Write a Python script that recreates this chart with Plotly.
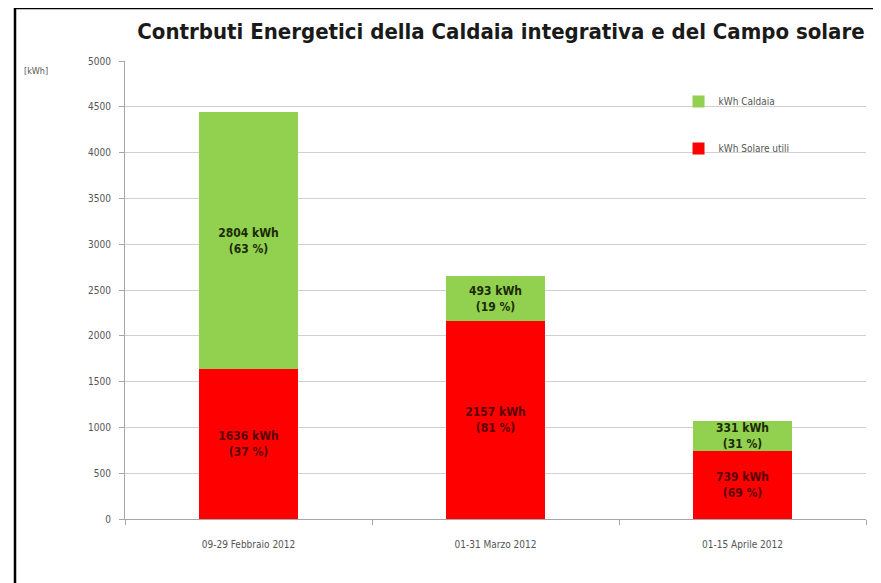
import plotly.graph_objects as go

categories = ["09-29 Febbraio 2012", "01-31 Marzo 2012", "01-15 Aprile 2012"]
solare = [1636, 2157, 739]
caldaia = [2804, 493, 331]
solare_pct = [37, 81, 69]
caldaia_pct = [63, 19, 31]
y_ticks = [0, 500, 1000, 1500, 2000, 2500, 3000, 3500, 4000, 4500, 5000]

FONT = "DejaVu Sans Condensed, Liberation Sans Narrow, sans-serif"

sol_text = [f"{v} kWh<br>({p} %)" for v, p in zip(solare, solare_pct)]
cal_text = [f"{v} kWh<br>({p} %)" for v, p in zip(caldaia, caldaia_pct)]

# page body has an 8px margin: figure origin sits at screen (8, 8)
OFF = 8
W, H = 881 - OFF, 583 - OFF
L, R, T, B = 125 - OFF, 15, 61 - OFF, 64
pw, ph = W - L - R, H - T - B

fig = go.Figure()
fig.add_trace(go.Bar(
    x=categories, y=solare, name="kWh Solare utili",
    marker=dict(color="#FF0000", line=dict(width=0)),
    text=sol_text, textposition="inside", insidetextanchor="middle",
    constraintext="none",
    textfont=dict(family=FONT, size=12, color="#5a0000", weight="bold"),
    legendrank=2, legendgroup="sol", width=0.4,
))
fig.add_trace(go.Bar(
    x=categories, y=caldaia, name="kWh Caldaia",
    marker=dict(color="#92D050", line=dict(width=0)),
    text=cal_text, textposition="inside", insidetextanchor="middle",
    constraintext="none",
    textfont=dict(family=FONT, size=12, color="#1c2a05", weight="bold"),
    legendrank=1, legendgroup="cal", width=0.4,
))

fig.update_layout(
    width=W, height=H,
    barmode="stack",
    margin=dict(l=L, r=R, t=T, b=B, autoexpand=False),
    paper_bgcolor="white", plot_bgcolor="white",
    font=dict(family=FONT, color="#555555", size=10),
    title=dict(
        text="<b>Contrbuti Energetici della Caldaia integrativa e del Campo solare</b>",
        x=(501 - OFF) / W, xanchor="center", xref="container",
        y=1 - (31 - OFF) / H, yanchor="middle", yref="container",
        font=dict(family=FONT, size=22, color="#1a1a1a"),
    ),
    xaxis=dict(
        type="category", showgrid=False,
        showline=True, linecolor="#a6a6a6", linewidth=1,
        ticks="outside", tickson="boundaries", ticklen=5, tickcolor="#a6a6a6",
        tickfont=dict(size=10, color="#555555"), ticklabelstandoff=16,
    ),
    yaxis=dict(
        range=[0, 5000], tickvals=y_ticks,
        showgrid=True, gridcolor="#d0d0d0", gridwidth=1,
        showline=True, linecolor="#a6a6a6", linewidth=1,
        ticks="outside", ticklen=5, tickcolor="#a6a6a6",
        tickfont=dict(size=10, color="#555555"), ticklabelstandoff=6,
        zeroline=False,
    ),
    legend=dict(
        x=0.747, y=1 - (101 - 61 - 14) / ph, xanchor="left", yanchor="top",
        traceorder="grouped", tracegroupgap=28,
        font=dict(size=10, color="#555555"),
        bgcolor="rgba(0,0,0,0)", itemwidth=30,
    ),
    showlegend=True,
    annotations=[dict(
        text="[kWh]", xref="paper", yref="paper",
        x=(22 - 125) / pw, y=1 - (71 - 61) / ph, xanchor="left", yanchor="middle",
        showarrow=False, font=dict(size=9, color="#555555"),
    )],
    shapes=[
        dict(type="line", xref="paper", yref="paper",
             x0=(15 - 125) / pw, x1=(15 - 125) / pw, y0=-0.3, y1=1 + (61 - 8) / ph,
             line=dict(color="black", width=2.5)),
        dict(type="line", xref="paper", yref="paper",
             x0=(15 - 125) / pw, x1=1.2, y0=1 + (61 - 8) / ph, y1=1 + (61 - 8) / ph,
             line=dict(color="black", width=2.5)),
    ],
)

fig.write_html("out.html")
